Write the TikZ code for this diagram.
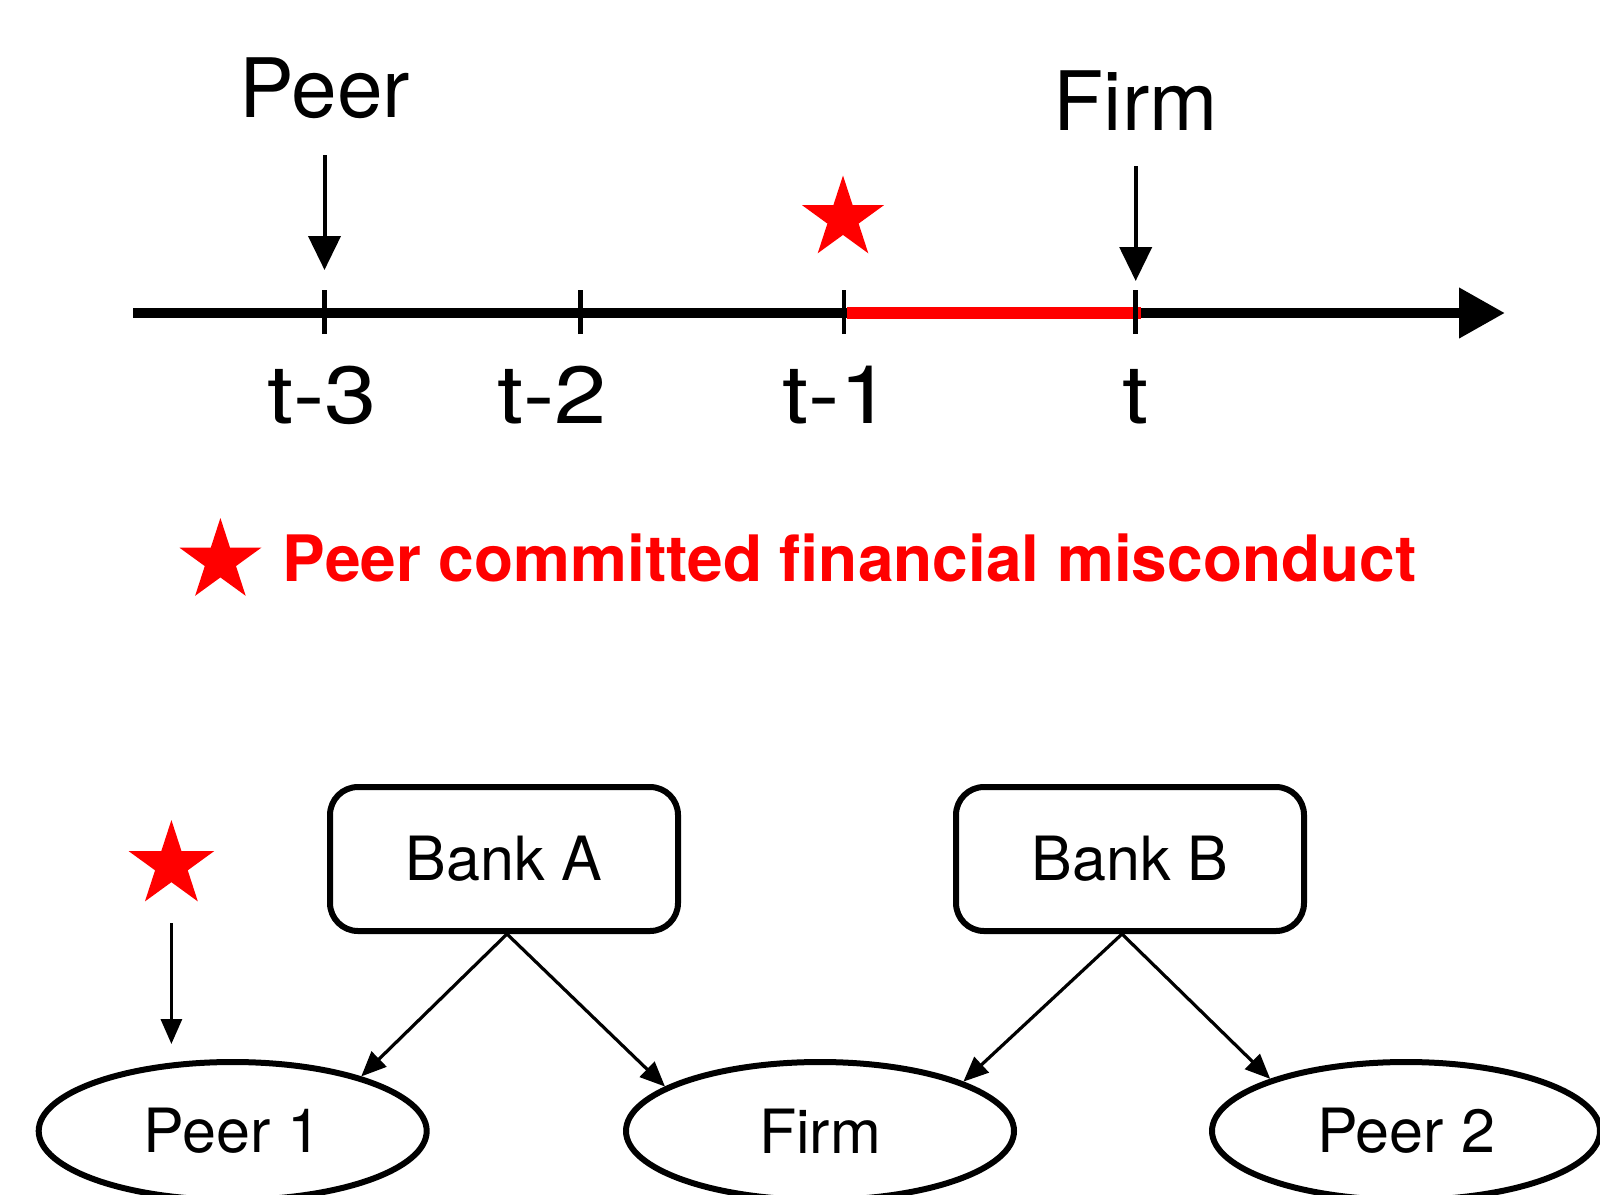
\documentclass[tikz,border=0pt]{standalone}
\usepackage{fontspec}
\setmainfont{TeX Gyre Heros}
\newfontfamily\widefont[FakeStretch=1.16]{TeX Gyre Heros}
\usetikzlibrary{arrows.meta,shapes.geometric}
\begin{document}
\begin{tikzpicture}[x=1pt,y=-1pt,
  biglbl/.style={font=\fontsize{82}{90}\selectfont, inner sep=0pt, anchor=base},
  ticklbl/.style={font=\widefont\fontsize{81}{90}\selectfont, inner sep=0pt, anchor=base},
  redstar/.style={star, star points=5, star point ratio=2.618, fill=red, draw=none, inner sep=0pt, minimum size=#1},
  downarrow/.style={line width=4pt, -{Triangle[length=34pt,width=32pt]}},
  tickmark/.style={line width=4.5pt},
  bankbox/.style={draw, line width=6pt, rounded corners=28pt, minimum width=348pt, minimum height=144pt, inner sep=0pt, font=\fontsize{61}{70}\selectfont},
  firmell/.style={ellipse, draw, line width=6pt, minimum width=388pt, minimum height=138pt, inner sep=0pt, font=\fontsize{61}{70}\selectfont},
  linkarrow/.style={line width=3.2pt, -{Triangle[length=25pt,width=21pt]}}
]
\useasboundingbox (0,0) rectangle (1600,1194);

% ---------- timeline ----------
\coordinate (axL) at (133,313);
\coordinate (axR) at (1505,313);
\coordinate (T3) at (324.5,313);
\coordinate (T2) at (580.6,313);
\coordinate (T1) at (843.9,313);
\coordinate (T0) at (1135.7,313);
\coordinate (redL) at (847,313);
\coordinate (redR) at (1141,313);

\draw[line width=10.5pt, -{Triangle[length=46pt,width=48pt]}] (axL) -- (axR);
\draw[red, line width=12pt] (redL) -- (redR);
\foreach \t in {T3,T2,T1,T0}
  \draw[tickmark] ([yshift=-21pt]\t) -- ([yshift=23pt]\t);

\node[ticklbl] (l3) at (322.4,423.5) {t-3};
\node[ticklbl] (l2) at (552,423.5) {t-2};
\node[ticklbl] (l1) at (837,423.5) {t-1};
\node[ticklbl] (l0) at (1135.7,423.5) {t};

\node[biglbl] (peerlbl) at (324.5,117) {Peer};
\node[biglbl] (firmlbl) at (1135.7,130.6) {Firm};

\coordinate (pa1) at (324.5,155);
\coordinate (pa2) at (324.5,270);
\coordinate (fa1) at (1135.7,166);
\coordinate (fa2) at (1135.7,281);
\draw[downarrow] (pa1) -- (pa2);
\draw[downarrow] (fa1) -- (fa2);

\node[redstar=86pt] (topstar) at (843,218.5) {};

% ---------- legend ----------
\node[redstar=86pt] (legstar) at (220.4,561) {};
\node[anchor=base west, inner sep=0pt, text=red, font=\bfseries\fontsize{64}{72}\selectfont] (legtext) at (282.7,581.6) {Peer committed financial misconduct};

% ---------- network ----------
\node[bankbox] (bankA) at (504,859) {Bank A};
\node[bankbox] (bankB) at (1130,859) {Bank B};
\node[firmell] (peer1) at (232.7,1131) {Peer 1};
\node[firmell] (firm) at (820,1131) {Firm};
\node[firmell] (peer2) at (1406,1131) {Peer 2};

\draw[linkarrow] ([xshift=3pt]bankA.south) -- (peer1.23);
\draw[linkarrow] ([xshift=3pt]bankA.south) -- (firm.164);
\draw[linkarrow] ([xshift=-8pt]bankB.south) -- (firm.19);
\draw[linkarrow] ([xshift=-8pt]bankB.south) -- (peer2.159);

\node[redstar=90pt] (botstar) at (171.4,865) {};
\coordinate (sa1) at (171.4,923);
\coordinate (sa2) at (171.4,1044);
\draw[linkarrow] (sa1) -- (sa2);
\end{tikzpicture}
\end{document}
